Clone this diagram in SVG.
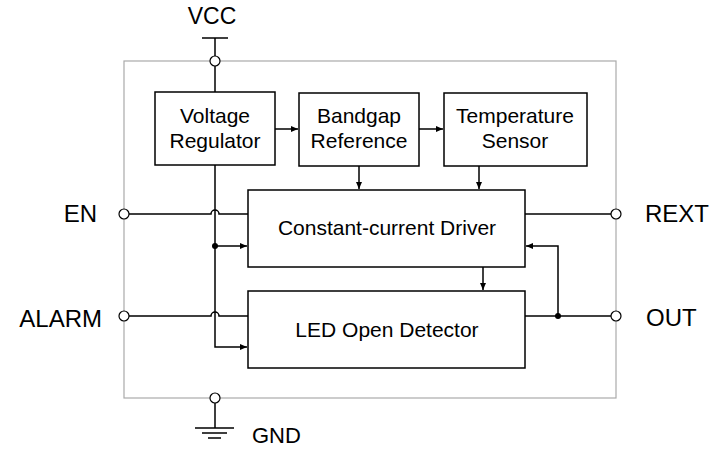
<svg xmlns="http://www.w3.org/2000/svg" width="712" height="450" viewBox="0 0 712 450">
<defs>
<marker id="ah" markerWidth="8" markerHeight="8" refX="7" refY="4" orient="auto" markerUnits="userSpaceOnUse"><path d="M0,1 L7,4 L0,7 Z" fill="#000"/></marker>
<style>
.box{fill:#fff;stroke:#000;stroke-width:1.5}
.ln{fill:none;stroke:#000;stroke-width:1.5}
.pin{fill:#fff;stroke:#000;stroke-width:1.2}
.t{font-family:"Liberation Sans",Arial,sans-serif;font-size:21px;fill:#000;text-anchor:middle}
.lbl{font-family:"Liberation Sans",Arial,sans-serif;font-size:24px;fill:#000}
</style>
</defs>
<rect width="712" height="450" fill="#fff"/>
<rect id="chip" x="124" y="61" width="492" height="337" fill="none" stroke="#aaa" stroke-width="1.2"/>
<g id="connectors">
<path class="ln" d="M202,38 H228 M215,38 V56"/>
<path class="ln" d="M215,66 V92"/>
<path class="ln" d="M215,165 V347 H247" marker-end="url(#ah)"/>
<path class="ln" d="M215,246 H247" marker-end="url(#ah)"/>
<path class="ln" d="M275,129 H298" marker-end="url(#ah)"/>
<path class="ln" d="M419,129 H443" marker-end="url(#ah)"/>
<path class="ln" d="M359,166 V189" marker-end="url(#ah)"/>
<path class="ln" d="M479,166 V189" marker-end="url(#ah)"/>
<path class="ln" d="M483,267 V290" marker-end="url(#ah)"/>
<path class="ln" d="M129,214 H211 A4,4 0 0 1 219,214 H248"/>
<path class="ln" d="M129,316 H211 A4,4 0 0 1 219,316 H248"/>
<path class="ln" d="M525,214 H611"/>
<path class="ln" d="M525,316 H611"/>
<path class="ln" d="M558,316 V246 H526" marker-end="url(#ah)"/>
<circle cx="215" cy="246" r="3" fill="#000"/>
<circle cx="558" cy="316" r="3" fill="#000"/>
<path class="ln" d="M215,403 V428 M195,428 H234 M202,433 H227 M208,438 H221"/>
</g>
<g id="pins">
<circle class="pin" cx="215" cy="61" r="5"/>
<circle class="pin" cx="215" cy="398" r="5"/>
<circle class="pin" cx="124" cy="214" r="5"/>
<circle class="pin" cx="124" cy="316" r="5"/>
<circle class="pin" cx="616" cy="214" r="5"/>
<circle class="pin" cx="616" cy="316" r="5"/>
</g>
<g id="vreg"><rect class="box" x="155" y="92" width="120" height="73"/><text class="t" x="215" y="123">Voltage</text><text class="t" x="215" y="148">Regulator</text></g>
<g id="bandgap"><rect class="box" x="299" y="93" width="120" height="73"/><text class="t" x="359" y="123">Bandgap</text><text class="t" x="359" y="148">Reference</text></g>
<g id="temp"><rect class="box" x="444" y="93" width="143" height="73"/><text class="t" x="515" y="123">Temperature</text><text class="t" x="515" y="148">Sensor</text></g>
<g id="driver"><rect class="box" x="248" y="190" width="277" height="77"/><text class="t" x="387" y="235">Constant-current Driver</text></g>
<g id="led"><rect class="box" x="248" y="291" width="277" height="77"/><text class="t" x="387" y="337">LED Open Detector</text></g>
<g id="labels">
<text class="lbl" x="212" y="24" text-anchor="middle" style="font-size:23px">VCC</text>
<text class="lbl" x="97" y="222" text-anchor="end">EN</text>
<text class="lbl" x="102" y="327" text-anchor="end">ALARM</text>
<text class="lbl" x="645" y="222">REXT</text>
<text class="lbl" x="646" y="326">OUT</text>
<text class="lbl" x="252" y="443" style="font-size:22px">GND</text>
</g>
</svg>
